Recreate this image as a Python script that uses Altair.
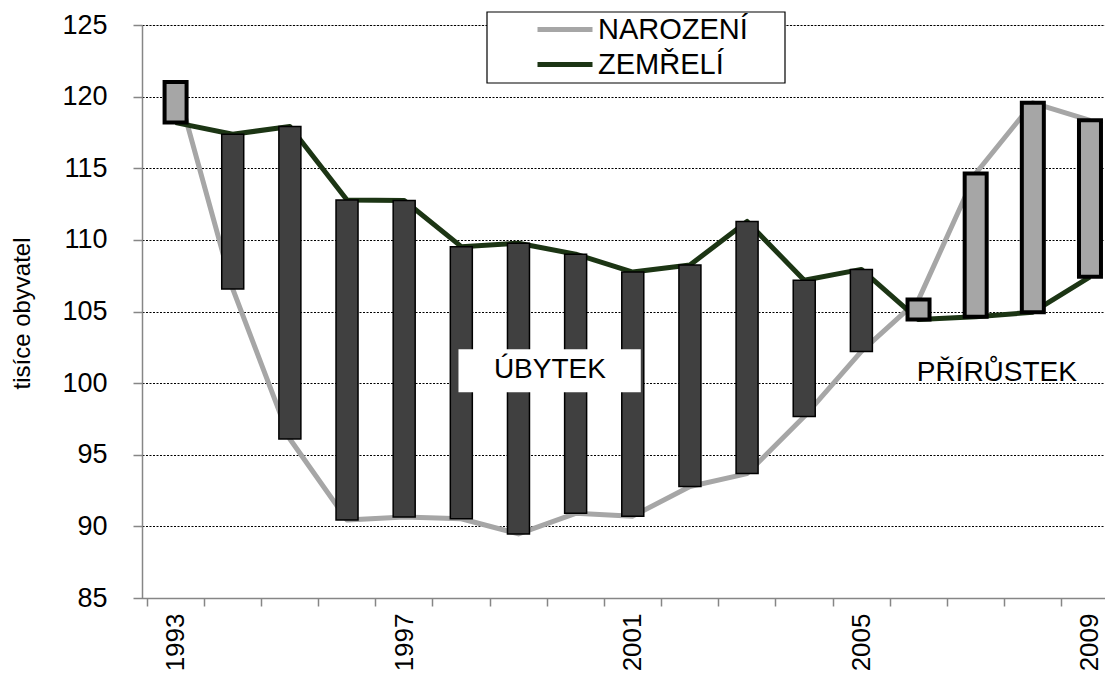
import altair as alt
import pandas as pd

# ---- data (thousands of inhabitants) ----
years = list(range(1993, 2010))
births = [121.025, 106.579, 96.097, 90.446, 90.657, 90.535, 89.471, 90.910, 90.715,
          92.786, 93.685, 97.664, 102.211, 105.831, 114.632, 119.570, 118.348]
deaths = [118.185, 117.373, 117.913, 112.782, 112.744, 109.527, 109.768, 109.001, 107.755,
          108.243, 111.288, 107.177, 107.938, 104.441, 104.636, 104.948, 107.421]
series_names = ["NAROZENÍ", "ZEMŘELÍ"]
y_ticks = [85, 90, 95, 100, 105, 110, 115, 120, 125]
note_labels = ["ÚBYTEK", "PŘÍRŮSTEK"]
note_x = [1999.55, 2007.37]
note_y = [100.9, 100.7]

# ---- layout / style constants ----
FONT = "Liberation Sans"
series_colors = ["#a6a6a6", "#1c3514"]
PX_PER_YEAR = 57.75
PLOT_W = 963
PLOT_H = 573
x_domain = [1992.5, 1992.5 + PLOT_W / PX_PER_YEAR]
ubytek_box = dict(x0=1997.95, x1=2001.14, y0=99.37, y1=102.36)

wide = pd.DataFrame({"year": years, "births": births, "deaths": deaths})
long = pd.DataFrame({
    "year": years + years,
    "series": [series_names[0]] * len(years) + [series_names[1]] * len(years),
    "value": births + deaths,
})
notes = pd.DataFrame({"label": note_labels, "x": note_x, "y": note_y})
box_df = pd.DataFrame([ubytek_box])

x_axis = alt.Axis(
    values=years, tickOffset=-PX_PER_YEAR / 2, labelOffset=PX_PER_YEAR / 2,
    labelExpr="datum.value % 4 == 1 ? toString(datum.value) : ''",
    labelAngle=270, labelFontSize=26, labelFont=FONT, labelColor="black",
    tickSize=8, labelPadding=7, grid=False, title=None,
    domainColor="#868686", tickColor="#868686", domainWidth=1.5, tickWidth=1.5,
    labelOverlap=False,
)
y_axis = alt.Axis(
    values=y_ticks, labelFontSize=27, labelFont=FONT, labelColor="black",
    tickSize=9, labelPadding=26, grid=True, gridColor="black", gridDash=[2, 1.5],
    gridWidth=1, domainColor="#868686", tickColor="#868686", domainWidth=1.5,
    tickWidth=1.5, title="tisíce obyvatel", titleFont=FONT, titleFontSize=24,
    titleFontWeight="normal", titleColor="black", titleX=-120, titleY=288,
    titleAngle=270, titleAlign="center", titleBaseline="middle",
)
xs = alt.Scale(domain=x_domain, nice=False, zero=False)
ys = alt.Scale(domain=[85, 125], nice=False, zero=False)

legend_box = alt.Chart(pd.DataFrame({"k": [0]})).mark_rect(
    fill="white", stroke="black", strokeWidth=1.2
).encode(
    x=alt.value(345), x2=alt.value(643), y=alt.value(-13), y2=alt.value(58)
)

lines = alt.Chart(long).mark_line(strokeWidth=5, strokeJoin="round").encode(
    x=alt.X("year:Q", scale=xs, axis=x_axis),
    y=alt.Y("value:Q", scale=ys, axis=y_axis),
    color=alt.Color(
        "series:N",
        scale=alt.Scale(domain=series_names, range=series_colors),
        sort=series_names,
        legend=alt.Legend(
            orient="none", legendX=393, legendY=-13, title=None,
            symbolType="stroke", symbolSize=3025, symbolStrokeWidth=5,
            labelFontSize=29, labelFont=FONT, labelColor="black",
            labelOffset=3, rowPadding=0, clipHeight=35, padding=0,
        ),
    ),
)

bars_dec = alt.Chart(wide).transform_filter("datum.births < datum.deaths").mark_bar(
    width=22, fill="#404040", stroke="black", strokeWidth=1.5
).encode(
    x=alt.X("year:Q", scale=xs, axis=x_axis),
    y=alt.Y("births:Q", scale=ys, axis=y_axis),
    y2="deaths:Q",
)
bars_inc = alt.Chart(wide).transform_filter("datum.births >= datum.deaths").mark_bar(
    width=22, fill="#a6a6a6", stroke="black", strokeWidth=4
).encode(
    x=alt.X("year:Q", scale=xs, axis=x_axis),
    y=alt.Y("births:Q", scale=ys, axis=y_axis),
    y2="deaths:Q",
)

note_box = alt.Chart(box_df).mark_rect(fill="white").encode(
    x=alt.X("x0:Q", scale=xs, axis=x_axis), x2="x1:Q",
    y=alt.Y("y0:Q", scale=ys, axis=y_axis), y2="y1:Q",
)
note_text = alt.Chart(notes).mark_text(
    font=FONT, fontSize=28, color="black", align="center", baseline="middle"
).encode(
    x=alt.X("x:Q", scale=xs, axis=x_axis),
    y=alt.Y("y:Q", scale=ys, axis=y_axis),
    text="label:N",
)

chart = alt.layer(legend_box, lines, bars_dec, bars_inc, note_box, note_text).properties(
    width=PLOT_W, height=PLOT_H,
    autosize=alt.AutoSizeParams(type="none"),
    padding={"left": 134, "top": 17, "right": 0, "bottom": 75},
).configure_view(stroke=None).configure(background="white")

chart.save("out.html", embed_options={"renderer": "svg", "actions": False})
